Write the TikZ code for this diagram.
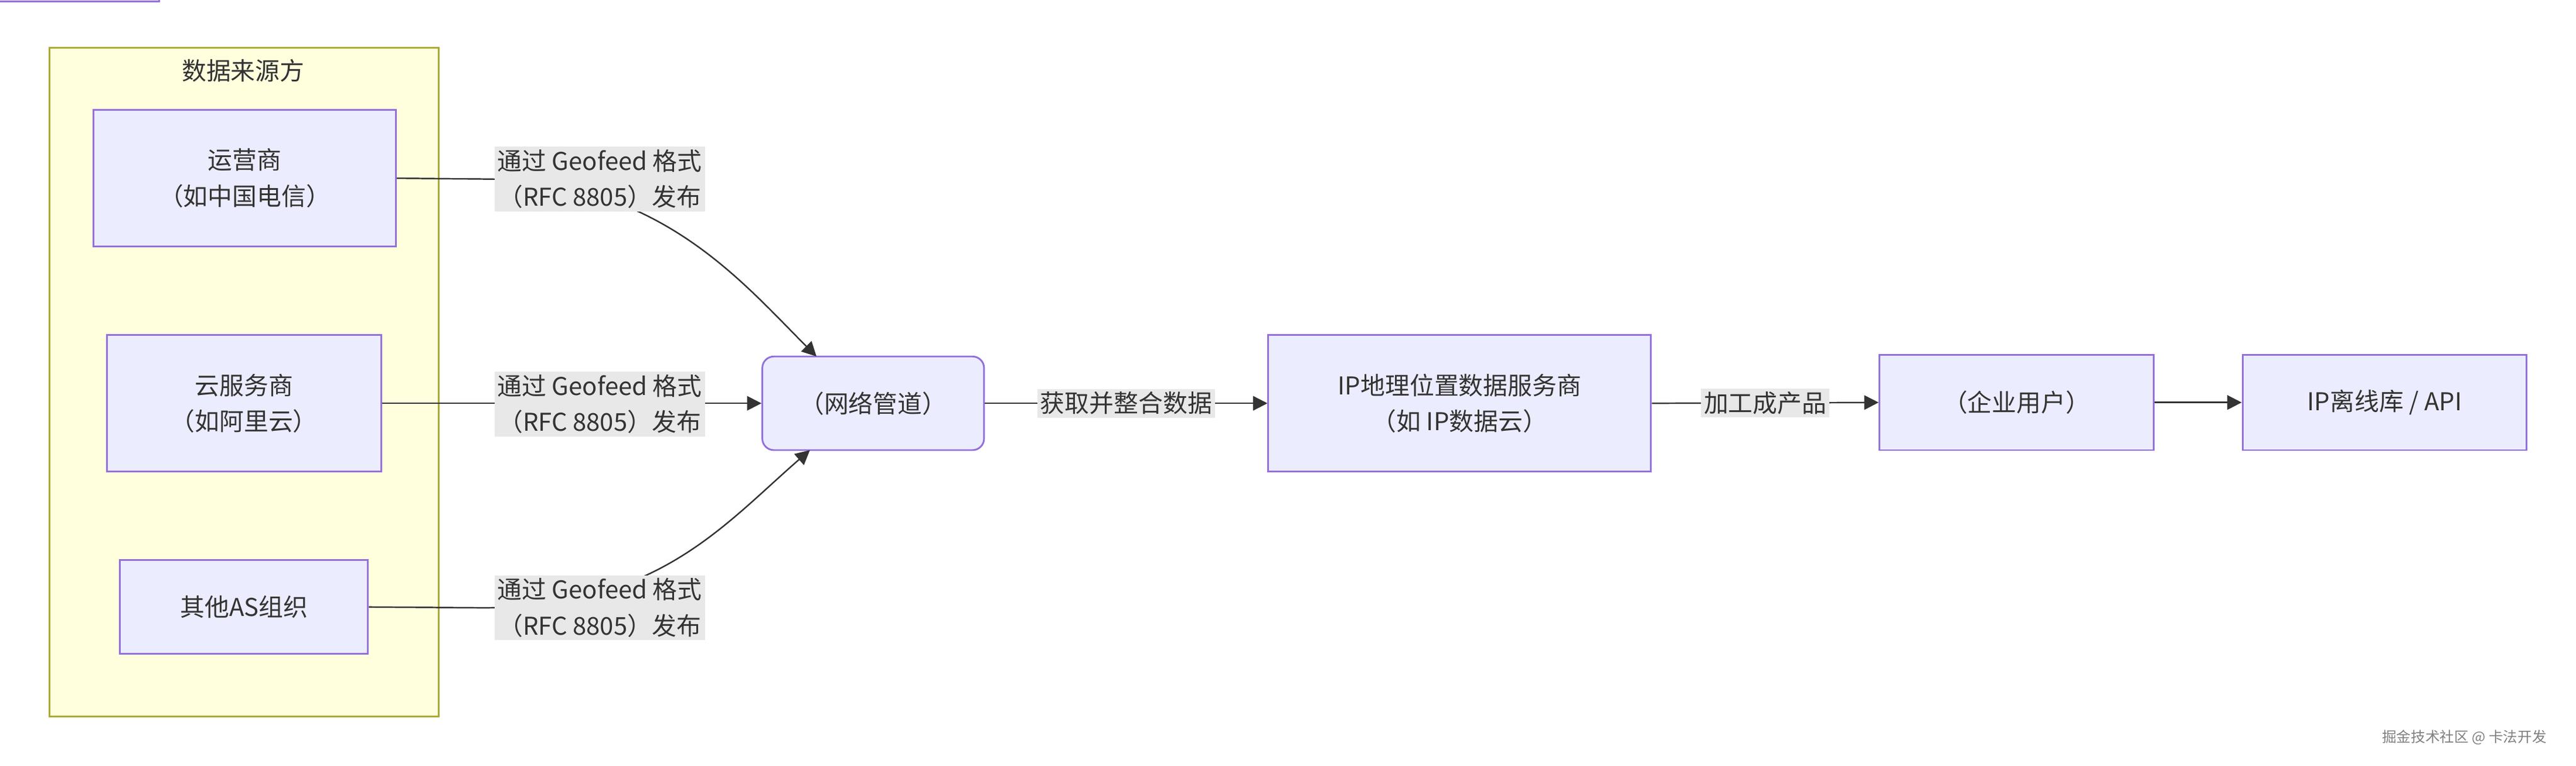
\documentclass[tikz,border=0pt]{standalone}
\usepackage{fontspec}
\setmainfont{Noto Sans CJK SC}
\usetikzlibrary{arrows.meta}
\definecolor{nfill}{HTML}{ECECFF}
\definecolor{nline}{HTML}{9370DB}
\definecolor{cfill}{HTML}{FFFFDE}
\definecolor{cline}{HTML}{AAAA33}
\definecolor{lfill}{HTML}{E8E8E8}
\definecolor{ink}{HTML}{333333}
\begin{document}
\begin{tikzpicture}[x=0.02cm,y=-0.02cm,
  every node/.style={font=\fontsize{8.5}{12.5}\selectfont, text=ink},
  box/.style={draw=nline, fill=nfill, line width=0.6pt, align=center, inner sep=0pt},
  lbl/.style={fill=lfill, align=center, inner sep=1pt},
  conn/.style={draw=ink, line width=0.5pt},
  arr/.style={conn, -{Triangle[length=5pt,width=5pt]}}]
\useasboundingbox (0,0) rectangle (1568,466);
\draw[fill=cfill, draw=cline, line width=0.6pt] (30,29) rectangle (267,436);
\node (title) at (148,43) {数据来源方};
\node[box, minimum width=184\pgflinewidth] at (0,0) {}; % placeholder removed below
\node[box, minimum width=3.68cm, minimum height=1.66cm] (a) at (149,108.5) {运营商\\（如中国电信）};
\node[box, minimum width=3.34cm, minimum height=1.66cm] (b) at (148.5,245.5) {云服务商\\（如阿里云）};
\node[box, minimum width=3.02cm, minimum height=1.14cm] (c) at (148.5,369.5) {其他AS组织};
\node[box, rounded corners=4pt, minimum width=2.7cm, minimum height=1.14cm] (net) at (531.5,245.5) {（网络管道）};
\node[box, minimum width=4.66cm, minimum height=1.66cm] (ip) at (888.5,245.5) {IP地理位置数据服务商\\（如 IP数据云）};
\node[box, minimum width=3.34cm, minimum height=1.16cm] (ent) at (1227.5,245) {（企业用户）};
\node[box, minimum width=3.46cm, minimum height=1.16cm] (lib) at (1451.5,245) {IP离线库 / API};
\coordinate (p1) at (365,109);
\coordinate (p2) at (365,246);
\coordinate (p3) at (365,370);
\draw[arr] (a.east) -- (294,109) .. controls (400,109) and (450,170) .. (497,217);
\draw[arr] (b.east) -- (net.west);
\draw[arr] (c.east) -- (294,370) .. controls (400,370) and (440,320) .. (493,274);
\node[lbl] (l1) at (p1) {通过 Geofeed 格式\\（RFC 8805）发布};
\node[lbl] (l2) at (p2) {通过 Geofeed 格式\\（RFC 8805）发布};
\node[lbl] (l3) at (p3) {通过 Geofeed 格式\\（RFC 8805）发布};
\draw[arr] (net.east) -- (ip.west) node[lbl, midway] (l4) {获取并整合数据};
\draw[arr] (ip.east) -- (ent.west) node[lbl, midway] (l5) {加工成产品};
\draw[arr] (ent.east) -- (lib.west);
\node[font=\fontsize{5}{6}\selectfont, text=gray] (wm) at (1500,449) {掘金技术社区 @ 卡法开发};
\end{tikzpicture}
\end{document}
